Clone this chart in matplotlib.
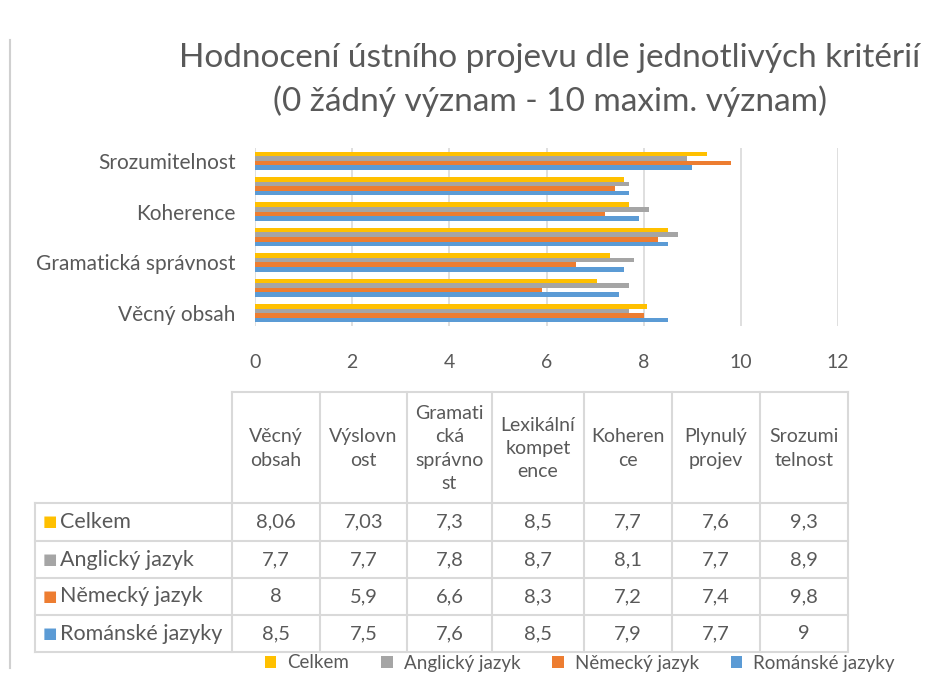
import numpy as np
import matplotlib
matplotlib.use("Agg")
import matplotlib.pyplot as plt
from matplotlib.lines import Line2D

plt.rcParams['font.family'] = ['Lato', 'DejaVu Sans']

# data
kriteria = ['Věcný obsah', 'Výslovnost', 'Gramatická správnost', 'Lexikální kompetence',
            'Koherence', 'Plynulý projev', 'Srozumitelnost']
hlavicky = ['Věcný\nobsah', 'Výslovn\nost', 'Gramati\ncká\nsprávno\nst', 'Lexikální\nkompet\nence',
            'Koheren\nce', 'Plynulý\nprojev', 'Srozumi\ntelnost']
serie = ['Celkem', 'Anglický jazyk', 'Německý jazyk', 'Románské jazyky']
celkem = [8.06, 7.03, 7.3, 8.5, 7.7, 7.6, 9.3]
anglicky = [7.7, 7.7, 7.8, 8.7, 8.1, 7.7, 8.9]
nemecky = [8, 5.9, 6.6, 8.3, 7.2, 7.4, 9.8]
romanske = [8.5, 7.5, 7.6, 8.5, 7.9, 7.7, 9]
hodnoty = [celkem, anglicky, nemecky, romanske]
barvy = ['#FFC000', '#A5A5A5', '#ED7D31', '#5B9BD5']

W, H = 952, 674
txt = '#595959'
mriz = '#D9D9D9'
fs = 14

def fx(x):
    return x / W

def fy(y):
    return 1 - y / H

fig = plt.figure(figsize=(W / 100, H / 100), dpi=100)

# levy okraj
fig.add_artist(Line2D([fx(10), fx(10)], [fy(40), fy(668)], color='#D0D0D0', lw=1.5))

fig.text(fx(550), fy(58), 'Hodnocení ústního projevu dle jednotlivých kritérií',
         ha='center', va='center', fontsize=24, color=txt)
fig.text(fx(550), fy(101), '(0 žádný význam - 10 maxim. význam)',
         ha='center', va='center', fontsize=24, color=txt)

ax = fig.add_axes([fx(255), fy(326), fx(838) - fx(255), (326 - 148) / H])
y = np.arange(len(kriteria))
h = 0.18
for i, (vals, c, s) in enumerate(zip(hodnoty, barvy, serie)):
    ax.barh(y + (1.5 - i) * h, vals, height=h, color=c, label=s, zorder=3)
ax.set_xlim(0, 12)
ax.set_ylim(-0.5, 6.5)
ax.set_xticks(range(0, 13, 2))
ax.set_yticks(y[::2])
ax.set_yticklabels(kriteria[::2])
ax.grid(axis='x', color=mriz, lw=1.2, zorder=0)
for sp in ax.spines.values():
    sp.set_visible(False)
ax.tick_params(axis='x', length=0, labelsize=fs, colors=txt, pad=20)
ax.tick_params(axis='y', length=0, labelsize=15, colors=txt, pad=14)

# tabulka
sloupce = [232, 320, 407, 492, 584, 672, 760, 848]
radky = [503, 541, 578, 615, 652]
top = 392
lw = 1.5
fig.add_artist(Line2D([fx(sloupce[0]), fx(sloupce[-1])], [fy(top), fy(top)], color=mriz, lw=lw))
for r in radky:
    fig.add_artist(Line2D([fx(35), fx(sloupce[-1])], [fy(r), fy(r)], color=mriz, lw=lw))
for c in sloupce:
    fig.add_artist(Line2D([fx(c), fx(c)], [fy(top), fy(radky[-1])], color=mriz, lw=lw))
fig.add_artist(Line2D([fx(35), fx(35)], [fy(radky[0]), fy(radky[-1])], color=mriz, lw=lw))

for j, hl in enumerate(hlavicky):
    xc = (sloupce[j] + sloupce[j + 1]) / 2
    fig.text(fx(xc), fy((top + radky[0]) / 2 + 1), hl, ha='center', va='center',
             fontsize=fs, color=txt, linespacing=1.45)

for i, (vals, c, s) in enumerate(zip(hodnoty, barvy, serie)):
    yc = (radky[i] + radky[i + 1]) / 2
    fig.text(fx(43), fy(yc), '■', ha='left', va='center', fontsize=11, color=c,
             family='DejaVu Sans')
    fig.text(fx(60), fy(yc), s, ha='left', va='center', fontsize=15.5, color=txt)
    for j, v in enumerate(vals):
        xc = (sloupce[j] + sloupce[j + 1]) / 2
        fig.text(fx(xc), fy(yc), f'{v:g}'.replace('.', ','), ha='center', va='center',
                 fontsize=fs + 0.5, color=txt)

fig.legend(loc='center', bbox_to_anchor=(fx(580), fy(663)), ncol=4, frameon=False,
           fontsize=13.5, labelcolor=txt, handlelength=0.6, handleheight=0.6,
           handletextpad=0.6, columnspacing=1.7, borderpad=0)

fig.savefig('out.png', dpi=100, facecolor='white')
